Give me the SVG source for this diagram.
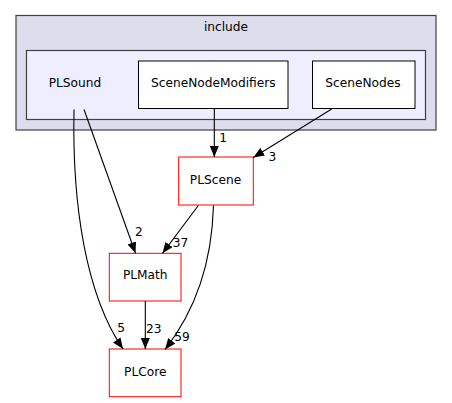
<svg xmlns="http://www.w3.org/2000/svg" width="452" height="403" viewBox="0 0 452 403">
<style>
text{font-family:"DejaVu Sans","Liberation Sans",sans-serif;font-size:12.2px;fill:#000}
.c{text-anchor:middle}
.cl1{fill:#ddddee;stroke:#404040;stroke-width:1.2}
.cl2{fill:#eeeeff;stroke:#404040;stroke-width:1.2}
.wn{fill:#fff;stroke:#000;stroke-width:1}
.rn{fill:#fff;stroke:#ff0000;stroke-width:1}
.e{fill:none;stroke:#000;stroke-width:1.1;marker-end:url(#ah)}
</style>
<defs>
<marker id="ah" viewBox="0 0 11 9" refX="11" refY="4.5" markerWidth="11" markerHeight="9" markerUnits="userSpaceOnUse" orient="auto">
<path d="M0,0 L11,4.5 L0,9 z" fill="#000"/>
</marker>
</defs>
<g id="cluster-include">
<rect class="cl1" x="16" y="15.5" width="420" height="114.5"/>
<text class="c" x="226" y="31">include</text>
</g>
<g id="cluster-PLSound">
<rect class="cl2" x="26.5" y="50.5" width="399" height="69"/>
<text class="c" x="75" y="87.3">PLSound</text>
</g>
<g id="node-SceneNodeModifiers">
<rect class="wn" x="138.5" y="61" width="149.5" height="47.5"/>
<text class="c" x="213.3" y="87.3">SceneNodeModifiers</text>
</g>
<g id="node-SceneNodes">
<rect class="wn" x="312.5" y="61" width="102.5" height="47.5"/>
<text class="c" x="363" y="87.3">SceneNodes</text>
</g>
<g id="node-PLScene">
<rect class="rn" x="178.7" y="157" width="74.6" height="48"/>
<text class="c" x="215.5" y="184">PLScene</text>
</g>
<g id="node-PLMath">
<rect class="rn" x="109.3" y="253.3" width="71.7" height="47.7"/>
<text class="c" x="145.3" y="279.3">PLMath</text>
</g>
<g id="node-PLCore">
<rect class="rn" x="109.3" y="349" width="71.7" height="47.7"/>
<text class="c" x="145.3" y="375.7">PLCore</text>
</g>
<g id="connectors">
<path class="e" d="M214.3,108.5 L214.3,157"/>
<text x="219.3" y="141.5">1</text>
<path class="e" d="M331.7,109 L253.3,157.5"/>
<text x="268.5" y="160.5">3</text>
<path class="e" d="M84,109.5 L135.5,253.3"/>
<text x="135" y="236">2</text>
<path class="e" d="M74,109.5 C72,205 86,295 123,349"/>
<text x="117.3" y="331.7">5</text>
<path class="e" d="M198.3,205.5 L162.5,253.3"/>
<text x="172.7" y="246.7">37</text>
<path class="e" d="M213.5,205.5 C212,260 196,310 165,349.5"/>
<text x="174.3" y="341">59</text>
<path class="e" d="M145.3,301 L145.3,349"/>
<text x="146" y="333.3">23</text>
</g>
</svg>
